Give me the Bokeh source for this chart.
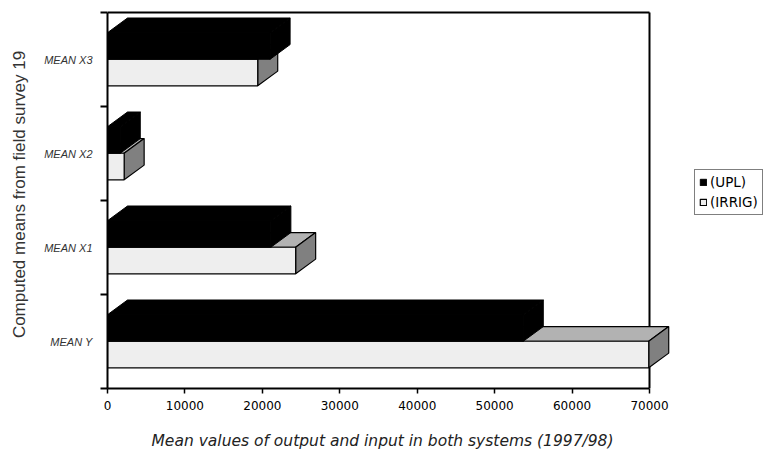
from bokeh.plotting import figure
from bokeh.models import Range1d, FixedTicker, Legend, LegendItem, Title
from bokeh.embed import file_html
from bokeh.resources import INLINE

# ---- data ----
categories = ["MEAN Y", "MEAN X1", "MEAN X2", "MEAN X3"]
upl = [53700, 21100, 1650, 21000]
irrig = [69900, 24300, 2150, 19400]
series_labels = ["(UPL)", "(IRRIG)"]
x_ticks = [0, 10000, 20000, 30000, 40000, 50000, 60000, 70000]
x_title = "Mean values of output and input in both systems (1997/98)"
y_title = "Computed means from field survey 19"

# ---- style / geometry constants ----
X_MAX = 70000
PX_PER_X = 542.0 / X_MAX        # pixels per data unit on x
PX_PER_BAND = 94.0              # pixels per category band
DEPTH_X = 20.0 / PX_PER_X       # 3D depth offset (x)
DEPTH_Y = 14.7 / PX_PER_BAND    # 3D depth offset (y)
BAR_H = 0.2825
BASE = 0.22

W, H = 767, 452
LEFT, BOTTOM = 107, 64
frame_w = W - LEFT
frame_h = H - BOTTOM
x_end = frame_w / PX_PER_X
y_end = frame_h / PX_PER_BAND

p = figure(width=W, height=H, output_backend="svg", toolbar_location=None,
           x_range=Range1d(0, x_end), y_range=Range1d(0, y_end),
           min_border_left=LEFT, min_border_right=0, min_border_top=0,
           min_border_bottom=BOTTOM)
p.outline_line_color = None
p.xgrid.visible = False
p.ygrid.visible = False
p.background_fill_color = "white"
p.border_fill_color = "white"

n = len(categories)

# frame lines (top and right) drawn under the bars
p.segment(x0=[0, X_MAX], y0=[n, 0], x1=[X_MAX, X_MAX], y1=[n, n],
          line_color="black", line_width=2)

def faces(values, bottoms):
    fx, fy, sx, sy, q = [], [], [], [], dict(l=[], r=[], b=[], t=[])
    for v, b in zip(values, bottoms):
        t = b + BAR_H
        fx.append([0, v, v + DEPTH_X, DEPTH_X])
        fy.append([t, t, t + DEPTH_Y, t + DEPTH_Y])
        sx.append([v, v + DEPTH_X, v + DEPTH_X, v])
        sy.append([b, b + DEPTH_Y, t + DEPTH_Y, t])
        q["l"].append(0); q["r"].append(v); q["b"].append(b); q["t"].append(t)
    return fx, fy, sx, sy, q

irr_bot = [i + BASE for i in range(n)]
upl_bot = [b + BAR_H for b in irr_bot]

fx, fy, sx, sy, q = faces(irrig, irr_bot)
p.patches(xs=fx, ys=fy, fill_color="#B2B2B2", line_color="black", line_width=1.2)
p.patches(xs=sx, ys=sy, fill_color="#808080", line_color="black", line_width=1.2)
r_irr = p.quad(left=q["l"], right=q["r"], bottom=q["b"], top=q["t"],
               fill_color="#EEEEEE", line_color="black", line_width=1.2)

fx, fy, sx, sy, q = faces(upl, upl_bot)
p.patches(xs=fx, ys=fy, fill_color="black", line_color="black", line_width=1)
p.patches(xs=sx, ys=sy, fill_color="black", line_color="black", line_width=1)
r_upl = p.quad(left=q["l"], right=q["r"], bottom=q["b"], top=q["t"],
               fill_color="black", line_color="black", line_width=1)

# ---- x axis ----
xa = p.xaxis[0]
xa.ticker = FixedTicker(ticks=x_ticks)
xa.bounds = (0, X_MAX)
xa.axis_line_width = 2
xa.axis_line_color = "black"
xa.major_tick_out = 5
xa.major_tick_in = 0
xa.major_tick_line_width = 1.5
xa.minor_tick_line_color = None
xa.major_label_standoff = 7
xa.major_label_text_font = "DejaVu Sans"
xa.major_label_text_font_size = "12px"
xa.major_label_text_color = "black"
xa.formatter.use_scientific = False

# x-axis title as a below-panel title so it can be positioned along the axis
xt = Title(text=x_title, align="left", offset=44, standoff=0,
           padding=dict(top=17, bottom=0, left=0, right=0),
           text_font="DejaVu Sans", text_font_size="15.5px",
           text_font_style="italic", text_color="#222222")
p.add_layout(xt, "below")

# ---- y axis ----
ya = p.yaxis[0]
ya.ticker = FixedTicker(ticks=[i + 0.5 for i in range(n)],
                        minor_ticks=list(range(n + 1)))
ya.bounds = (0, n)
ya.axis_line_width = 2
ya.axis_line_color = "black"
ya.major_tick_line_color = None
ya.major_tick_out = 0
ya.major_tick_in = 0
ya.minor_tick_out = 7
ya.minor_tick_in = 0
ya.minor_tick_line_width = 2
ya.minor_tick_line_color = "black"
ya.major_label_overrides = {i + 0.5: c for i, c in enumerate(categories)}
ya.major_label_standoff = 8
ya.major_label_text_font = "Liberation Sans"
ya.major_label_text_font_size = "11px"
ya.major_label_text_font_style = "italic"
ya.major_label_text_color = "#333333"
ya.axis_label = y_title
ya.axis_label_text_font = "Liberation Sans"
ya.axis_label_text_font_size = "17px"
ya.axis_label_text_font_style = "normal"
ya.axis_label_text_color = "#333333"
ya.axis_label_standoff = 12

# ---- legend ----
legend = Legend(items=[LegendItem(label=series_labels[0], renderers=[r_upl]),
                       LegendItem(label=series_labels[1], renderers=[r_irr])],
                location=(587, 173))
legend.border_line_color = "black"
legend.border_line_width = 1
legend.background_fill_color = "white"
legend.background_fill_alpha = 1
legend.label_text_font = "DejaVu Sans"
legend.label_text_font_size = "13.5px"
legend.label_text_color = "black"
legend.glyph_width = 8
legend.glyph_height = 8
legend.label_height = 15
legend.label_standoff = 3
legend.spacing = 4
legend.padding = 4
legend.margin = 0
p.add_layout(legend)

open("out.html", "w").write(file_html(p, INLINE))
